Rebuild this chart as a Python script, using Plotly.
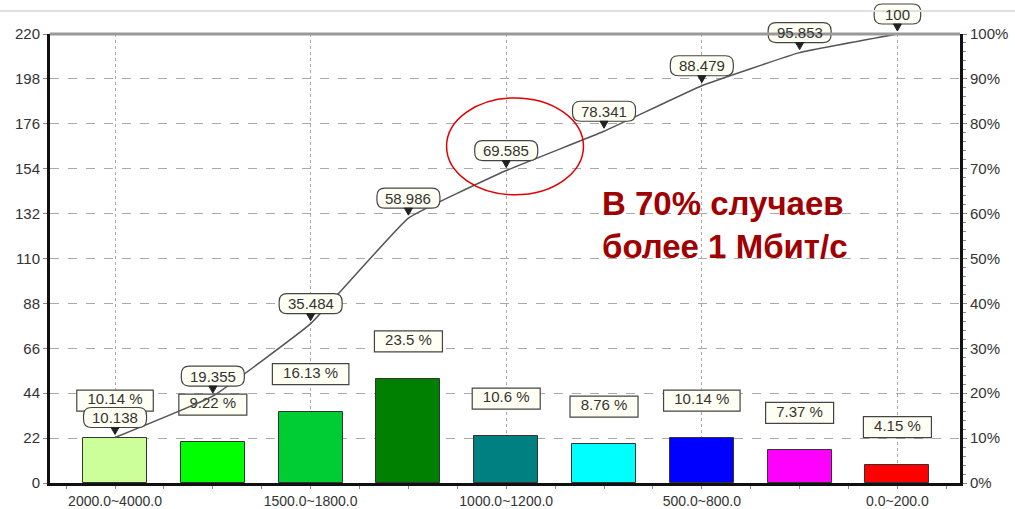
import plotly.graph_objects as go

# ---------------- data ----------------
categories = ["2000.0~4000.0", "1800.0~2000.0", "1500.0~1800.0", "1200.0~1500.0",
              "1000.0~1200.0", "800.0~1000.0", "500.0~800.0", "200.0~500.0", "0.0~200.0"]
counts = [22, 20, 35, 51, 23, 19, 22, 16, 9]
percent_labels = ["10.14 %", "9.22 %", "16.13 %", "23.5 %", "10.6 %", "8.76 %", "10.14 %", "7.37 %", "4.15 %"]
cumulative = [10.138, 19.355, 35.484, 58.986, 69.585, 78.341, 88.479, 95.853, 100]
cumulative_labels = ["10.138", "19.355", "35.484", "58.986", "69.585", "78.341", "88.479", "95.853", "100"]
bar_colors = ["#CCFF99", "#00FF00", "#00CC33", "#008000", "#008080", "#00FFFF", "#0000FF", "#FF00FF", "#FF0000"]
left_ticks = [0, 22, 44, 66, 88, 110, 132, 154, 176, 198, 220]
right_ticks = [0, 10, 20, 30, 40, 50, 60, 70, 80, 90, 100]
right_tick_text = ["0%", "10%", "20%", "30%", "40%", "50%", "60%", "70%", "80%", "90%", "100%"]
shown_ticks = [0, 2, 4, 6, 8]

# ---------------- layout geometry ----------------
W, H = 1015, 509
ML, MR, MT, MB = 50, 55, 34, 26
PH = H - MT - MB
PW = W - ML - MR
Y_MAX = 220
px_per_unit = PH / Y_MAX

FONT = "Liberation Sans, Arial, sans-serif"
TXT = "#333333"

x_idx = list(range(len(categories)))

fig = go.Figure()

# bars
fig.add_trace(go.Bar(
    x=x_idx, y=counts, width=0.655,
    marker=dict(color=bar_colors, line=dict(color="#333333", width=1)),
    hoverinfo="skip", showlegend=False,
))

# bar label text (placed 37 px above bar top)
label_offset = 37.5 / px_per_unit
fig.add_trace(go.Scatter(
    x=x_idx, y=[c + label_offset for c in counts], mode="text",
    text=percent_labels, textposition="middle center",
    textfont=dict(family=FONT, size=15, color=TXT),
    hoverinfo="skip", showlegend=False, cliponaxis=False,
))

# cumulative line
fig.add_trace(go.Scatter(
    x=x_idx, y=cumulative, mode="lines", yaxis="y2",
    line=dict(color="#555555", width=1.5, shape="spline", smoothing=0.3),
    hoverinfo="skip", showlegend=False,
))

shapes = []
# bar label boxes
for i, (c, t) in enumerate(zip(counts, percent_labels)):
    w = 8.5 * len(t) + 17
    x0, x1 = -w / 2, w / 2
    y0, y1 = 27, 48
    shapes.append(dict(
        type="path", xref="x", yref="y", xsizemode="pixel", ysizemode="pixel",
        xanchor=i, yanchor=c,
        path=f"M{x0},{y0} L{x1},{y0} L{x1},{y1} L{x0},{y1} Z",
        fillcolor="#FFFFF4", line=dict(color="#444444", width=1.2), layer="between",
    ))

# cumulative label boxes (rounded) + pointer triangles
for i, (v, t) in enumerate(zip(cumulative, cumulative_labels)):
    w = 5.5 * len(t) + 30
    x0, x1 = -w / 2, w / 2
    y0, y1 = 10, 30
    r = 8
    path = (f"M{x0 + r},{y0} L{x1 - r},{y0} Q{x1},{y0} {x1},{y0 + r} L{x1},{y1 - r} "
            f"Q{x1},{y1} {x1 - r},{y1} L{x0 + r},{y1} Q{x0},{y1} {x0},{y1 - r} "
            f"L{x0},{y0 + r} Q{x0},{y0} {x0 + r},{y0} Z")
    shapes.append(dict(
        type="path", xref="x", yref="paper", xsizemode="pixel", ysizemode="pixel",
        xanchor=i, yanchor=v / 100,
        path=path, fillcolor="#FFFFF4", line=dict(color="#444444", width=1.2), layer="above",
    ))
    shapes.append(dict(
        type="path", xref="x", yref="paper", xsizemode="pixel", ysizemode="pixel",
        xanchor=i, yanchor=v / 100,
        path="M-4,10 L4,10 L0,3 Z",
        fillcolor="#222222", line=dict(color="#222222", width=1), layer="above",
    ))

# red ellipse around the 69.585 point
shapes.append(dict(
    type="circle", xref="x", yref="y", x0=3.39, x1=4.79, y0=141.2, y1=188.7,
    line=dict(color="#E00000", width=1.5), layer="above",
))
# gray top border of plot area
shapes.append(dict(type="line", xref="paper", yref="paper", x0=0, x1=1, y0=1, y1=1,
                   line=dict(color="#999999", width=3), layer="above"))
# faint line near image top
top_y = 1 + (MT - 11) / PH
shapes.append(dict(type="line", xref="paper", yref="paper", x0=-ML / PW, x1=1 + MR / PW,
                   y0=top_y, y1=top_y, line=dict(color="#E0E0E0", width=2), layer="above"))

annotations = []
for i, (v, t) in enumerate(zip(cumulative, cumulative_labels)):
    annotations.append(dict(
        x=i, y=v, xref="x", yref="y2", text=t, showarrow=False, yshift=20,
        font=dict(family=FONT, size=15, color=TXT),
    ))

annotations.append(dict(
    xref="paper", yref="paper", x=(600 - ML) / PW, y=(H - MB - 183) / PH,
    xanchor="left", yanchor="top", align="left", showarrow=False,
    text="<b>В 70% случаев<br>более 1 Мбит/с</b>",
    font=dict(family=FONT, size=33, color="#A00000"),
))

fig.update_layout(
    width=W, height=H,
    margin=dict(l=ML, r=MR, t=MT, b=MB, pad=0, autoexpand=False),
    paper_bgcolor="white", plot_bgcolor="white",
    font=dict(family=FONT, size=15, color=TXT),
    showlegend=False,
    bargap=0,
    shapes=shapes, annotations=annotations,
    xaxis=dict(
        range=[-0.665, 8.64], tickmode="array", tickvals=shown_ticks,
        ticktext=[categories[i] for i in shown_ticks],
        showgrid=True, gridcolor="#AAAAAA", griddash="dot", gridwidth=1,
        showline=True, linecolor="#111111", linewidth=3,
        ticks="outside", ticklen=3, tickcolor="#888888",
        minor=dict(tickmode="linear", tick0=0, dtick=0.5, ticks="outside", ticklen=3,
                   tickcolor="#888888", showgrid=False),
        zeroline=False, tickfont=dict(size=14, color=TXT), automargin=False,
    ),
    yaxis=dict(
        range=[0, Y_MAX], tickmode="array", tickvals=left_ticks,
        showgrid=True, gridcolor="#AAAAAA", griddash="dash", gridwidth=1,
        showline=True, linecolor="#111111", linewidth=3,
        ticks="outside", ticklen=4, tickcolor="#888888",
        zeroline=False, tickfont=dict(size=15, color=TXT), automargin=False,
    ),
    yaxis2=dict(
        range=[0, 100], overlaying="y", side="right", tickmode="array", tickvals=right_ticks,
        ticktext=right_tick_text, showgrid=False,
        showline=True, linecolor="#111111", linewidth=3,
        ticks="outside", ticklen=4, tickcolor="#888888",
        minor=dict(tickmode="linear", tick0=0, dtick=2, ticks="outside", ticklen=3,
                   tickcolor="#888888"),
        zeroline=False, tickfont=dict(size=15, color=TXT), automargin=False,
    ),
)

# remove the browser's default body margin so the figure sits at the page origin
fig.write_html(
    "out.html",
    config={"displayModeBar": False},
    post_script="document.body.style.margin='0';document.body.style.overflow='hidden';",
)
